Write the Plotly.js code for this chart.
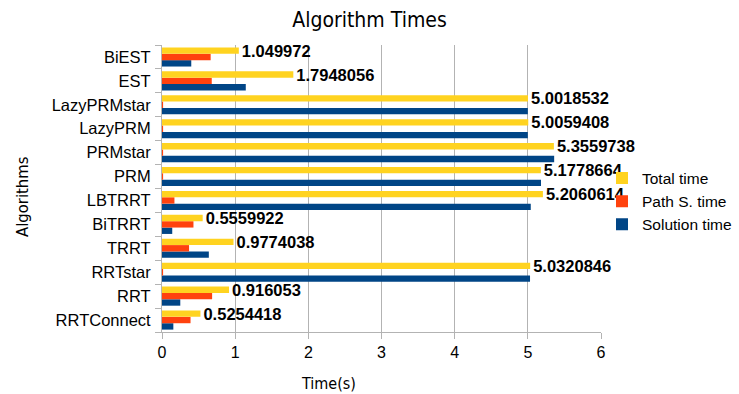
<!DOCTYPE html>
<html>
<head>
<meta charset="utf-8">
<script src="https://cdn.plot.ly/plotly-3.0.1.min.js"></script>
<style>html,body{margin:0;padding:0;background:#fff}#chart{width:739px;height:394px}</style>
</head>
<body>
<div id="chart"></div>
<script>
var algorithms = ["RRTConnect","RRT","RRTstar","TRRT","BiTRRT","LBTRRT","PRM","PRMstar","LazyPRM","LazyPRMstar","EST","BiEST"];
var totalTime = [0.5254418,0.916053,5.0320846,0.9774038,0.5559922,5.2060614,5.1778664,5.3559738,5.0059408,5.0018532,1.7948056,1.049972];
var totalLabels = ["0.5254418","0.916053","5.0320846","0.9774038","0.5559922","5.2060614","5.1778664","5.3559738","5.0059408","5.0018532","1.7948056","1.049972"];
var pathSTime = [0.39,0.685,0.015,0.37,0.43,0.17,0.015,0.015,0.015,0.015,0.68,0.665];
var solutionTime = [0.155,0.25,5.03,0.64,0.14,5.04,5.18,5.36,5.0,5.0,1.145,0.40];

var narrow = "Liberation Sans Narrow, DejaVu Sans Condensed, Arial Narrow, sans-serif";
var base = "Liberation Sans, Arial, sans-serif";

var traces = [
  {type:"bar", orientation:"h", name:"Solution time", y:algorithms, x:solutionTime, marker:{color:"#004586"}, hoverinfo:"x"},
  {type:"bar", orientation:"h", name:"Path S. time", y:algorithms, x:pathSTime, marker:{color:"#ff420e"}, hoverinfo:"x"},
  {type:"bar", orientation:"h", name:"Total time", y:algorithms, x:totalTime, marker:{color:"#ffd320"},
   text:totalLabels, textposition:"outside", cliponaxis:false, constraintext:"none", textangle:0,
   textfont:{family:base, size:16.5, color:"#000", weight:"bold"}, hoverinfo:"x"}
];

var layout = {
  width:739, height:394,
  margin:{l:162, r:138, t:45, b:62, pad:0, autoexpand:false},
  paper_bgcolor:"#fff", plot_bgcolor:"#fff",
  barmode:"group", bargap:0.2, bargroupgap:0,
  showlegend:true,
  legend:{traceorder:"reversed", x:(602-162)/439, xanchor:"left", y:0.455, yanchor:"middle",
    font:{family:base, size:15.5, color:"#000"}, itemwidth:20, tracegroupgap:0, bgcolor:"rgba(0,0,0,0)"},
  title:{text:"Algorithm Times", x:0.5, xanchor:"center", y:0.95, yanchor:"middle",
    font:{family:narrow, size:21, color:"#000"}},
  xaxis:{range:[0,6], dtick:1, tick0:0, showgrid:true, gridcolor:"#b3b3b3", gridwidth:1,
    zeroline:false, showline:true, linecolor:"#b3b3b3", linewidth:1,
    ticks:"outside", ticklen:6, tickcolor:"#b3b3b3",
    tickfont:{family:base, size:16, color:"#000"}, fixedrange:true},
  yaxis:{type:"category", categoryorder:"array", categoryarray:algorithms,
    showgrid:false, zeroline:false, showline:true, linecolor:"#b3b3b3", linewidth:1,
    ticks:"outside", tickson:"boundaries", ticklen:6, tickcolor:"#b3b3b3", ticklabelstandoff:7,
    tickfont:{family:base, size:16.5, color:"#000"}, fixedrange:true},
  annotations:[
    {text:"Time(s)", xref:"paper", yref:"paper", x:(328-162)/439, y:-(383-332)/287, xanchor:"center", yanchor:"middle",
      showarrow:false, font:{family:narrow, size:16, color:"#000"}},
    {text:"Algorithms", xref:"paper", yref:"paper", x:-(162-22)/439, y:(332-197)/287, xanchor:"center", yanchor:"middle",
      textangle:-90, showarrow:false, font:{family:narrow, size:16.5, color:"#000"}}
  ]
};

Plotly.newPlot("chart", traces, layout, {staticPlot:true, displayModeBar:false});
</script>
</body>
</html>
